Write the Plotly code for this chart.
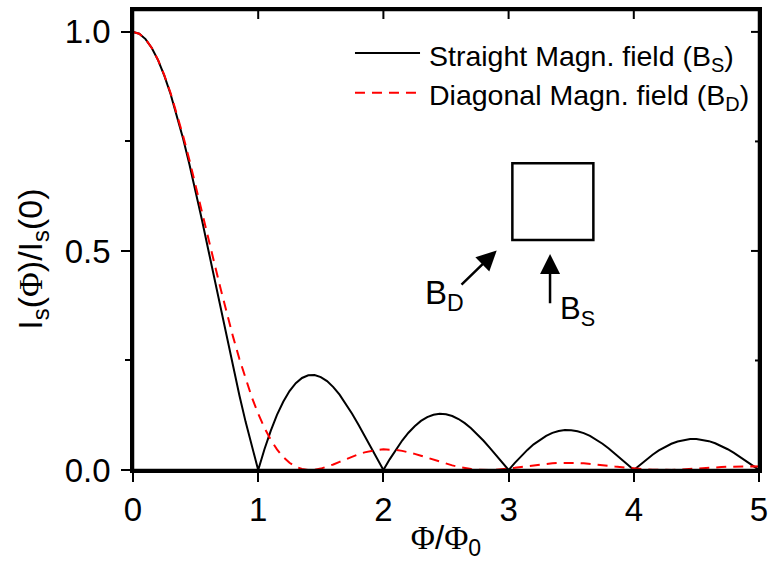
import plotly.graph_objects as go

# ---------------- data ----------------
phi = [0.00, 0.05, 0.10, 0.15, 0.20, 0.25, 0.30, 0.35, 0.40, 0.45,
       0.50, 0.55, 0.60, 0.65, 0.70, 0.75, 0.80, 0.85, 0.90, 0.95,
       1.00, 1.05, 1.10, 1.15, 1.20, 1.25, 1.30, 1.35, 1.40, 1.45,
       1.50, 1.55, 1.60, 1.65, 1.70, 1.75, 1.80, 1.85, 1.90, 1.95,
       2.00, 2.05, 2.10, 2.15, 2.20, 2.25, 2.30, 2.35, 2.40, 2.45,
       2.50, 2.55, 2.60, 2.65, 2.70, 2.75, 2.80, 2.85, 2.90, 2.95,
       3.00, 3.05, 3.10, 3.15, 3.20, 3.25, 3.30, 3.35, 3.40, 3.45,
       3.50, 3.55, 3.60, 3.65, 3.70, 3.75, 3.80, 3.85, 3.90, 3.95,
       4.00, 4.05, 4.10, 4.15, 4.20, 4.25, 4.30, 4.35, 4.40, 4.45,
       4.50, 4.55, 4.60, 4.65, 4.70, 4.75, 4.80, 4.85, 4.90, 4.95,
       5.00]

straight = [1.0000, 0.9959, 0.9836, 0.9634, 0.9355, 0.9003, 0.8584, 0.8103, 0.7568, 0.6987,
            0.6366, 0.5716, 0.5046, 0.4363, 0.3679, 0.3001, 0.2339, 0.1700, 0.1093, 0.0524,
            0.0000, 0.0474, 0.0894, 0.1257, 0.1559, 0.1801, 0.1981, 0.2101, 0.2162, 0.2168,
            0.2122, 0.2028, 0.1892, 0.1719, 0.1515, 0.1286, 0.1039, 0.0781, 0.0518, 0.0255,
            0.0000, 0.0243, 0.0468, 0.0672, 0.0851, 0.1000, 0.1120, 0.1207, 0.1261, 0.1283,
            0.1273, 0.1233, 0.1164, 0.1070, 0.0954, 0.0819, 0.0668, 0.0507, 0.0339, 0.0169,
            0.0000, 0.0163, 0.0317, 0.0459, 0.0585, 0.0693, 0.0780, 0.0847, 0.0890, 0.0911,
            0.0909, 0.0886, 0.0841, 0.0777, 0.0696, 0.0600, 0.0492, 0.0375, 0.0252, 0.0126,
            0.0000, 0.0123, 0.0240, 0.0348, 0.0446, 0.0530, 0.0599, 0.0652, 0.0688, 0.0707,
            0.0707, 0.0691, 0.0658, 0.0610, 0.0548, 0.0474, 0.0390, 0.0298, 0.0201, 0.0101,
            0.0000]

diagonal = [1.0000, 0.9959, 0.9837, 0.9635, 0.9359, 0.9013, 0.8605, 0.8141, 0.7630, 0.7083,
            0.6508, 0.5916, 0.5316, 0.4720, 0.4135, 0.3570, 0.3033, 0.2532, 0.2070, 0.1653,
            0.1283, 0.0963, 0.0692, 0.0470, 0.0295, 0.0165, 0.0076, 0.0022, 0.0001, 0.0006,
            0.0032, 0.0074, 0.0127, 0.0186, 0.0247, 0.0305, 0.0357, 0.0402, 0.0436, 0.0459,
            0.0471, 0.0470, 0.0458, 0.0437, 0.0406, 0.0368, 0.0326, 0.0280, 0.0233, 0.0187,
            0.0144, 0.0105, 0.0071, 0.0043, 0.0022, 0.0008, 0.0001, 0.0001, 0.0006, 0.0017,
            0.0031, 0.0049, 0.0068, 0.0088, 0.0107, 0.0124, 0.0140, 0.0152, 0.0160, 0.0164,
            0.0164, 0.0161, 0.0153, 0.0142, 0.0129, 0.0114, 0.0097, 0.0080, 0.0063, 0.0048,
            0.0033, 0.0021, 0.0012, 0.0005, 0.0001, 0.0000, 0.0002, 0.0006, 0.0012, 0.0020,
            0.0029, 0.0039, 0.0049, 0.0058, 0.0066, 0.0073, 0.0079, 0.0082, 0.0083, 0.0083,
            0.0080]

series_names = ["Straight Magn. field (B<sub>S</sub>)",
                "Diagonal Magn. field (B<sub>D</sub>)"]
x_ticks = [0, 1, 2, 3, 4, 5]
y_ticks = [0.0, 0.5, 1.0]
y_minor_ticks = [0.25, 0.75]
x_range = [0, 5]
y_range = [0, 1.05]

# ---------------- styles ----------------
FONT = "Liberation Sans, Arial, sans-serif"
BLACK_LINE = dict(color="black", width=2)
RED_LINE = dict(color="#ff0000", width=2, dash="10px,7px")
FRAME_LINE = dict(color="black", width=2.5)
PHI = '<span style="font-family:Liberation Serif">Φ</span>'
W, H = 769, 561
M = dict(l=133, r=10, t=10, b=91)
PLOT_W = W - M["l"] - M["r"]
PLOT_H = H - M["t"] - M["b"]

fig = go.Figure()
fig.add_trace(go.Scatter(x=phi, y=straight, mode="lines", line=BLACK_LINE,
                         name=series_names[0], showlegend=False))
fig.add_trace(go.Scatter(x=phi, y=diagonal, mode="lines", line=RED_LINE,
                         name=series_names[1], showlegend=False))

axis_common = dict(showgrid=False, zeroline=False, showline=True, mirror=True, linecolor="black",
                   linewidth=2.5, tickcolor="black", tickwidth=2, automargin=False)

fig.update_layout(
    width=W, height=H,
    margin=M,
    paper_bgcolor="white", plot_bgcolor="white",
    font=dict(family=FONT, color="black", size=32),
    xaxis=dict(range=x_range, tickvals=x_ticks, ticks="outside", ticklen=9,
               tickfont=dict(size=33),
               title=dict(text=PHI + "/" + PHI + "<sub>0</sub>", font=dict(size=33), standoff=5),
               **axis_common),
    yaxis=dict(range=y_range, tickvals=y_ticks, tickformat=".1f", ticks="outside", ticklen=9,
               tickfont=dict(size=33), ticklabelstandoff=4,
               minor=dict(ticks="outside", ticklen=5, dtick=0.25, tickcolor="black", tickwidth=2),
               **axis_common),
)

# closed frame around the plot area plus inward ticks on its top / right sides
fig.add_shape(type="rect", xref="paper", yref="paper", x0=0, x1=1, y0=0, y1=1,
              line=FRAME_LINE, fillcolor="rgba(0,0,0,0)", layer="above")
for t in x_ticks[1:-1]:
    fig.add_shape(type="line", xref="x", yref="paper", x0=t, x1=t, y0=1, y1=1 - 9 / PLOT_H,
                  line=dict(color="black", width=2), layer="above")
for t in y_ticks[1:]:
    fig.add_shape(type="line", xref="paper", yref="y", x0=1, x1=1 - 8 / PLOT_W, y0=t, y1=t,
                  line=dict(color="black", width=2), layer="above")
for t in y_minor_ticks:
    fig.add_shape(type="line", xref="paper", yref="y", x0=1, x1=1 - 4 / PLOT_W, y0=t, y1=t,
                  line=dict(color="black", width=2), layer="above")

# y-axis title (placed as an annotation so it can sit where the reference has it)
fig.add_annotation(xref="paper", yref="paper", x=-0.160, y=0.459,
                   text="I<sub>s</sub>(" + PHI + ")/I<sub>s</sub>(0)", textangle=-90,
                   showarrow=False, font=dict(size=34), xanchor="center", yanchor="middle")

# custom legend
leg_rows = [(0.9065, BLACK_LINE, series_names[0]), (0.8202, RED_LINE, series_names[1])]
for yy, ln, nm in leg_rows:
    fig.add_shape(type="line", xref="paper", yref="paper", x0=0.3546, x1=0.4585, y0=yy, y1=yy,
                  line=ln)
    fig.add_annotation(xref="paper", yref="paper", x=0.469, y=yy - 0.010, text=nm,
                       showarrow=False, xanchor="left", yanchor="middle", font=dict(size=28.5))

# inset: junction square and field arrows
fig.add_shape(type="rect", xref="x", yref="y", x0=3.03, x1=3.677, y0=0.525, y1=0.700,
              line=dict(color="black", width=2.5), fillcolor="rgba(0,0,0,0)")
fig.add_annotation(xref="x", yref="y", axref="x", ayref="y", x=2.905, y=0.501, ax=2.612, ay=0.42,
                   text="", showarrow=True, arrowhead=2, arrowsize=1.6, arrowwidth=2.5,
                   arrowcolor="black")
fig.add_annotation(xref="x", yref="y", axref="x", ayref="y", x=3.331, y=0.493, ax=3.331, ay=0.377,
                   text="", showarrow=True, arrowhead=2, arrowsize=1.6, arrowwidth=2.5,
                   arrowcolor="black")
fig.add_annotation(xref="x", yref="y", x=2.49, y=0.40, text="B<sub>D</sub>", showarrow=False,
                   font=dict(size=33), xanchor="center", yanchor="middle")
fig.add_annotation(xref="x", yref="y", x=3.55, y=0.363, text="B<sub>S</sub>", showarrow=False,
                   font=dict(size=31), xanchor="center", yanchor="middle")

fig.write_html("out.html")
